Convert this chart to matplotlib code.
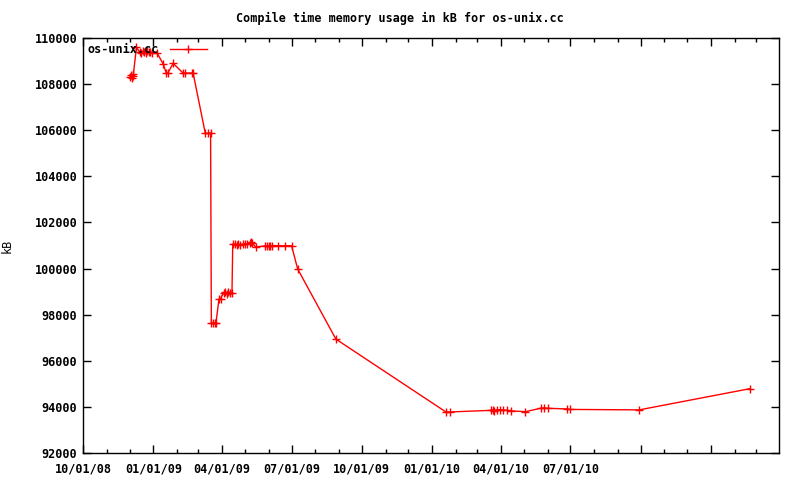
import datetime as dt
import matplotlib
matplotlib.use('Agg')
import matplotlib.pyplot as plt
import matplotlib.dates as mdates

# compile time memory usage samples (kB)
dates = ['2008-12-02', '2008-12-03', '2008-12-04', '2008-12-05', '2008-12-06',
         '2008-12-10', '2008-12-14', '2008-12-16', '2008-12-18', '2008-12-20',
         '2008-12-22', '2008-12-24', '2008-12-26', '2008-12-28', '2008-12-30',
         '2009-01-06', '2009-01-14', '2009-01-18', '2009-01-20', '2009-01-27',
         '2009-02-09', '2009-02-11', '2009-02-21', '2009-02-22',
         '2009-03-10', '2009-03-13', '2009-03-17', '2009-03-18', '2009-03-20',
         '2009-03-23', '2009-03-24', '2009-03-28', '2009-03-30',
         '2009-04-03', '2009-04-05', '2009-04-07', '2009-04-09', '2009-04-12',
         '2009-04-14', '2009-04-15', '2009-04-18', '2009-04-20', '2009-04-22',
         '2009-04-25', '2009-04-28', '2009-05-01', '2009-05-04', '2009-05-07',
         '2009-05-09', '2009-05-10', '2009-05-15', '2009-05-27', '2009-05-30',
         '2009-06-01', '2009-06-03', '2009-06-05', '2009-06-13', '2009-06-22',
         '2009-07-01', '2009-07-09', '2009-08-28',
         '2010-01-19', '2010-01-24', '2010-03-19', '2010-03-21', '2010-03-23',
         '2010-03-27', '2010-03-31', '2010-04-04', '2010-04-09', '2010-04-14',
         '2010-05-03', '2010-05-24', '2010-05-28', '2010-06-01', '2010-06-27',
         '2010-07-01', '2010-09-29', '2011-02-21']
kb = [108300, 108400, 108250, 108350, 108450,
      109600, 109400, 109350, 109420, 109380,
      109350, 109420, 109380, 109400, 109350,
      109350, 108870, 108480, 108480, 108900,
      108480, 108480, 108480, 108500,
      105880, 105860, 105880, 97640, 97620,
      97660, 97640, 98680, 98700,
      98950, 99000, 98900, 98980, 98950,
      98950, 101060, 101050, 101020, 101060,
      101030, 101060, 101080, 101060, 101100,
      101150, 101120, 100940, 100980, 100980,
      101000, 100960, 101000, 100990, 100990,
      100990, 99980, 96940,
      93780, 93780, 93850, 93880, 93840,
      93870, 93880, 93860, 93850, 93830,
      93790, 93950, 93960, 93940, 93910,
      93890, 93870, 94790]
tick_dates = ['2008-10-01', '2009-01-01', '2009-04-01', '2009-07-01', '2009-10-01',
              '2010-01-01', '2010-04-01', '2010-07-01', '2010-10-01', '2011-01-01']
tick_labels = ['10/01/08', '01/01/09', '04/01/09', '07/01/09', '10/01/09',
               '01/01/10', '04/01/10', '07/01/10', '', '']
y_ticks = [92000, 94000, 96000, 98000, 100000, 102000, 104000, 106000, 108000, 110000]

x = [dt.datetime.strptime(d, '%Y-%m-%d') for d in dates]
xt = [dt.datetime.strptime(d, '%Y-%m-%d') for d in tick_dates]

plt.rcParams['font.family'] = 'DejaVu Sans Mono'
plt.rcParams['font.weight'] = 'bold'
plt.rcParams['font.size'] = 8.5

fig = plt.figure(figsize=(8, 4.8), dpi=100)
ax = fig.add_axes([83 / 800, 27 / 480, 696 / 800, 415 / 480])
ax.plot(x, kb, color='#ff0000', lw=1, marker='+', ms=6, mew=1, label='os-unix.cc')

ax.set_xlim(dt.datetime(2008, 10, 1), dt.datetime(2011, 3, 31))
ax.set_ylim(92000, 110000)
ax.set_xticks(xt)
ax.set_xticklabels(tick_labels)
ax.xaxis.set_minor_locator(mdates.MonthLocator())
ax.set_yticks(y_ticks)
ax.tick_params(direction='in', which='both', top=True, right=True, length=6, width=1, pad=4)
ax.tick_params(axis='x', pad=7)
ax.tick_params(which='minor', length=3)
for s in ax.spines.values():
    s.set_linewidth(1)

ax.set_ylabel('kB')
ax.yaxis.set_label_coords(-0.099, 0.5)
fig.suptitle('Compile time memory usage in kB for os-unix.cc', y=0.975, fontsize=8.5, fontweight='bold')
ax.legend(loc='upper left', frameon=False, markerfirst=False, handlelength=3.2,
          borderaxespad=0.3, borderpad=0.1, handletextpad=0.9)

fig.savefig('out.png', dpi=100)
